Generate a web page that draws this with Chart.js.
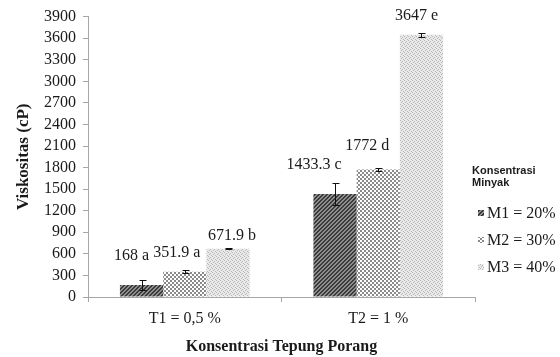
<!DOCTYPE html>
<html>
<head>
<meta charset="utf-8">
<script src="https://cdn.jsdelivr.net/npm/chart.js@4/dist/chart.umd.min.js"></script>
<style>
  html, body { margin: 0; padding: 0; background: #fff; }
  #wrap { width: 560px; height: 357px; }
</style>
</head>
<body>
<div id="wrap"><canvas id="c" width="560" height="357"></canvas></div>
<script>
// Categories and series
const categories = ['T1 = 0,5 %', 'T2 = 1 %'];
const seriesNames = ['M1 = 20%', 'M2 = 30%', 'M3 = 40%'];
const m1Values = [168, 1433.3];
const m2Values = [351.9, 1772];
const m3Values = [671.9, 3647];
const m1Errors = [70, 150];
const m2Errors = [20, 20];
const m3Errors = [10, 30];
const m1Letters = ['a', 'c'];
const m2Letters = ['a', 'd'];
const m3Letters = ['b', 'e'];
const yTicks = [0, 300, 600, 900, 1200, 1500, 1800, 2100, 2400, 2700, 3000, 3300, 3600, 3900];

const SERIF = '"Liberation Serif", "Times New Roman", serif';
const SANS = '"Liberation Sans", Arial, sans-serif';
const TEXT = '#1a1a1a';
const AXIS = '#a6a6a6';

// Fill patterns for the three series
function makePattern(kind) {
  const t = document.createElement('canvas');
  t.width = 4; t.height = 4;
  const g = t.getContext('2d');
  if (kind === 0) {
    g.fillStyle = '#8e8e8e'; g.fillRect(0, 0, 4, 4);
    g.fillStyle = '#3a3a3a';
    for (let x = 0; x < 4; x++) for (let y = 0; y < 4; y++) {
      if ((x + y) % 4 === 0 || (x + y) % 4 === 1) g.fillRect(x, y, 1, 1);
    }
  } else if (kind === 1) {
    g.fillStyle = '#8a8a8a'; g.fillRect(0, 0, 4, 4);
    g.fillStyle = '#ffffff';
    g.fillRect(0, 0, 2, 2); g.fillRect(2, 2, 2, 2);
  } else {
    g.fillStyle = '#e9e9e9'; g.fillRect(0, 0, 4, 4);
    g.fillStyle = '#b8b8b8';
    g.fillRect(0, 0, 1, 1); g.fillRect(2, 1, 1, 1); g.fillRect(1, 2, 1, 1); g.fillRect(3, 3, 1, 1);
  }
  const ctx = document.getElementById('c').getContext('2d');
  return ctx.createPattern(t, 'repeat');
}
const fills = [makePattern(0), makePattern(1), makePattern(2)];

const errorSets = [m1Errors, m2Errors, m3Errors];
const letterSets = [m1Letters, m2Letters, m3Letters];

// Error bars with caps
const errorBars = {
  id: 'errorBars',
  afterDatasetsDraw(chart) {
    const ctx = chart.ctx;
    const ys = chart.scales.y;
    ctx.save();
    ctx.strokeStyle = '#111';
    ctx.lineWidth = 1;
    chart.data.datasets.forEach((ds, di) => {
      const meta = chart.getDatasetMeta(di);
      meta.data.forEach((bar, i) => {
        const v = ds.data[i], e = errorSets[di][i];
        const x = Math.round(bar.x) + 0.5;
        const yt = Math.round(ys.getPixelForValue(v + e)) + 0.5;
        const yb = Math.round(ys.getPixelForValue(v - e)) + 0.5;
        ctx.beginPath();
        ctx.moveTo(x, yt); ctx.lineTo(x, yb);
        ctx.moveTo(x - 3, yt); ctx.lineTo(x + 4, yt);
        ctx.moveTo(x - 3, yb); ctx.lineTo(x + 4, yb);
        ctx.stroke();
      });
    });
    ctx.restore();
  }
};

// Value labels with significance letters
const valueLabels = {
  id: 'valueLabels',
  afterDatasetsDraw(chart, args, opts) {
    const ctx = chart.ctx;
    ctx.save();
    ctx.font = '16px ' + SERIF;
    ctx.fillStyle = TEXT;
    ctx.textAlign = 'center';
    ctx.textBaseline = 'middle';
    chart.data.datasets.forEach((ds, di) => {
      const meta = chart.getDatasetMeta(di);
      meta.data.forEach((bar, i) => {
        const off = opts.offsets[di][i];
        const txt = String(ds.data[i]) + ' ' + letterSets[di][i];
        ctx.fillText(txt, bar.x + off[0], bar.y + off[1]);
      });
    });
    ctx.restore();
  }
};

// Legend block on the right
const sideLegend = {
  id: 'sideLegend',
  afterDraw(chart) {
    const ctx = chart.ctx;
    ctx.save();
    ctx.fillStyle = TEXT;
    ctx.textBaseline = 'middle';
    ctx.textAlign = 'left';
    ctx.font = 'bold 11px ' + SANS;
    ctx.fillText('Konsentrasi', 472, 171);
    ctx.fillText('Minyak', 472, 183);
    ctx.font = '16px ' + SERIF;
    const rows = [213, 240, 267];
    seriesNames.forEach((name, i) => {
      ctx.fillStyle = fills[i];
      ctx.fillRect(478, rows[i] - 3, 6, 6);
      ctx.fillStyle = TEXT;
      ctx.fillText(name, 487, rows[i] + 1);
    });
    ctx.restore();
  }
};

const seriesValues = [m1Values, m2Values, m3Values];

new Chart(document.getElementById('c'), {
  type: 'bar',
  data: {
    labels: categories,
    datasets: seriesNames.map((name, i) => ({
      label: name,
      data: seriesValues[i],
      backgroundColor: fills[i],
      borderWidth: 0,
      categoryPercentage: 0.67,
      barPercentage: 1.0
    }))
  },
  options: {
    responsive: false,
    animation: false,
    layout: { padding: { left: 0, right: 85, top: 16, bottom: 0 } },
    plugins: {
      legend: { display: false },
      tooltip: { enabled: false },
      valueLabels: {
        offsets: [
          [[-10, -29], [-21, -29]],
          [[-8, -19], [-11, -24]],
          [[4, -13], [-5, -19]]
        ]
      }
    },
    scales: {
      x: {
        grid: { display: true, drawOnChartArea: false, drawTicks: true, tickLength: 5, color: AXIS },
        border: { display: true, color: AXIS },
        ticks: { color: TEXT, font: { family: SERIF, size: 16 }, padding: 7 },
        title: {
          display: true, text: 'Konsentrasi Tepung Porang', color: TEXT,
          font: { family: SERIF, size: 16, weight: 'bold' }, padding: { top: 0, bottom: 1 }
        },
        afterFit(scale) { scale.height = 60; }
      },
      y: {
        min: 0, max: 3900,
        afterBuildTicks(scale) { scale.ticks = yTicks.map(v => ({ value: v })); },
        grid: { display: true, drawOnChartArea: false, drawTicks: true, tickLength: 5, color: AXIS },
        border: { display: true, color: AXIS },
        ticks: {
          color: TEXT, font: { family: SERIF, size: 16 }, padding: 7,
          autoSkip: false,
          callback: (v) => String(v)
        },
        title: {
          display: true, text: 'Viskositas (cP)', color: TEXT,
          font: { family: SERIF, size: 17, weight: 'bold' }, padding: { top: 13, bottom: 0 }
        },
        afterFit(scale) { scale.width = 88; }
      }
    }
  },
  plugins: [errorBars, valueLabels, sideLegend]
});
</script>
</body>
</html>
